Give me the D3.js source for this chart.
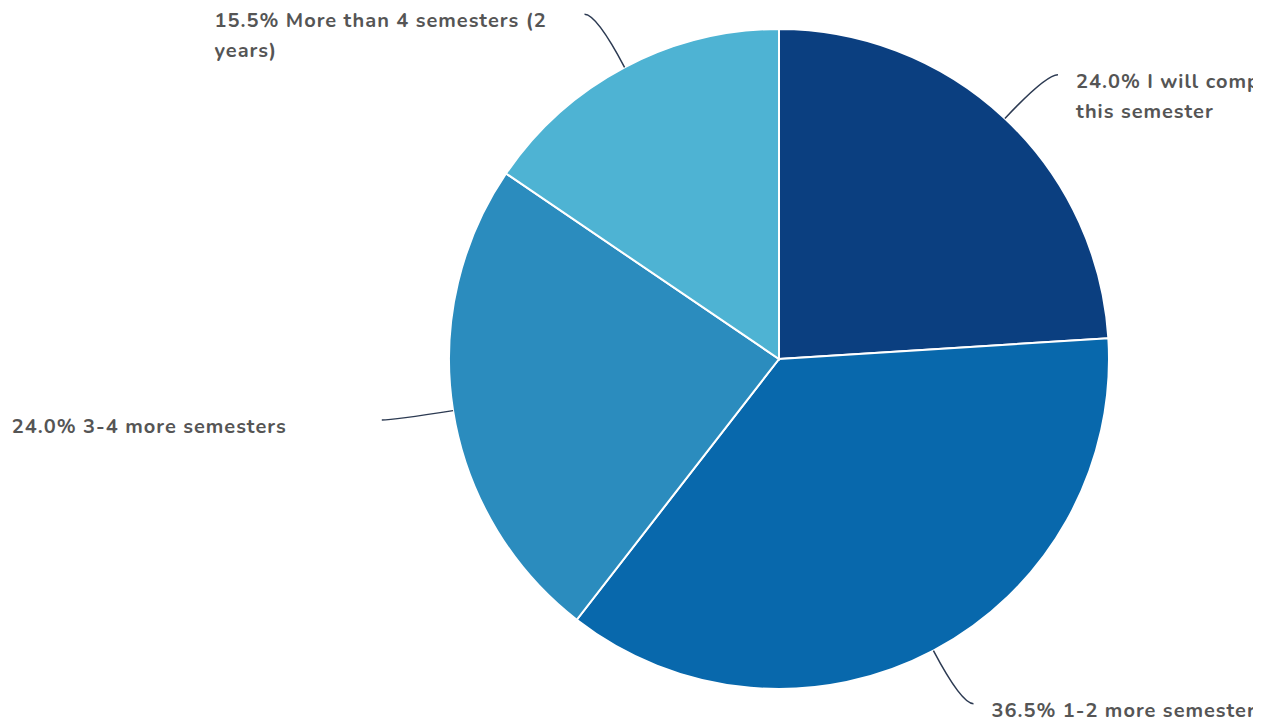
<!DOCTYPE html>
<html>
<head>
<meta charset="utf-8">
<script src="https://cdnjs.cloudflare.com/ajax/libs/d3/7.8.5/d3.min.js"></script>
<style>
  body { margin: 0; background: #fff; }
  svg { display: block; overflow: hidden; }
  .label { font-family: Nunito, Lato, "Open Sans", sans-serif; font-weight: 700; font-size: 20px; letter-spacing: 1px; fill: #555; }
  .leader { fill: none; stroke: #2c3a52; stroke-width: 1.5; }
</style>
</head>
<body>
<div id="chart"></div>
<script>
// answers, clockwise from 12 o'clock
var categories = [
  "I will complete my degree\nthis semester",
  "1-2 more semesters",
  "3-4 more semesters",
  "More than 4 semesters (2\nyears)"
];
var shares = [24.0, 36.5, 24.0, 15.5];
var colors = ["#0b3f80", "#0868ac", "#2b8cbe", "#4eb3d3"];

var width = 1253, height = 726;
var cx = 779, cy = 359, radius = 330;
var boxWidth = 352;

var svg = d3.select("#chart")
	.append("svg")
	.attr("width", width)
	.attr("height", height)

var data = categories.map(function (c, i) {
	return { name: c, value: shares[i], color: colors[i] };
});

var pie = d3.pie()
	.sort(null)
	.value(function (d) { return d.value; });

var arc = d3.arc()
	.innerRadius(0)
	.outerRadius(radius);

var arcs = pie(data);

var g = svg.append("g")
	.attr("transform", "translate(" + cx + "," + cy + ")")

g.selectAll(".slice")
	.data(arcs)
	.enter()
	.append("path")
	.attr("class", "slice")
	.attr("d", arc)
	.attr("fill", function (d) { return d.data.color; })
	.attr("stroke", "#fff")
	.attr("stroke-width", 2)

function polar(r, a) {
	return [r * Math.sin(a), -r * Math.cos(a)];
}

function leaderEnd(d) {
	var a = (d.startAngle + d.endAngle) / 2;
	var p = polar(390, a);
	var side = Math.sin(a) >= 0 ? 1 : -1;
	return [p[0] + side * 12, p[1], side];
}

g.selectAll(".leader")
	.data(arcs)
	.enter()
	.append("path")
	.attr("class", "leader")
	.attr("d", function (d) {
		var a = (d.startAngle + d.endAngle) / 2;
		var s = polar(radius, a);
		var c = polar(390, a);
		var e = leaderEnd(d);
		return "M" + s + "Q" + c + " " + e[0] + "," + e[1];
	})

var labels = g.selectAll(".label")
	.data(arcs)
	.enter()
	.append("text")
	.attr("class", "label")
	.attr("transform", function (d) {
		var e = leaderEnd(d);
		var x = e[2] > 0 ? e[0] + 18 : e[0] - 18 - boxWidth;
		return "translate(" + x + "," + (e[1] + 13) + ")";
	})

labels.each(function (d) {
	var lines = (d.data.value.toFixed(1) + "% " + d.data.name).split("\n");
	var t = d3.select(this);
	lines.forEach(function (line, i) {
		t.append("tspan")
			.attr("x", 0)
			.attr("dy", i === 0 ? 0 : 30)
			.text(line);
	});
});
</script>
</body>
</html>
